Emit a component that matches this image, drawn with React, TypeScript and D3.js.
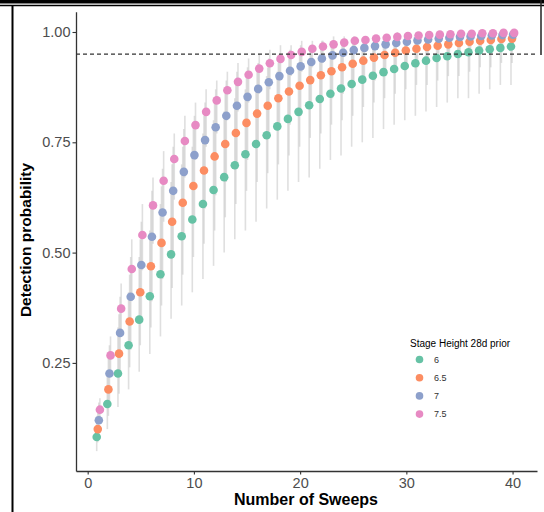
import React, { useEffect, useRef } from 'react';
import * as d3 from 'd3';

// sweeps 1..40
const sweeps = [1, 2, 3, 4, 5, 6, 7, 8, 9, 10, 11, 12, 13, 14, 15, 16, 17, 18, 19, 20,
  21, 22, 23, 24, 25, 26, 27, 28, 29, 30, 31, 32, 33, 34, 35, 36, 37, 38, 39, 40];

const stageLevels = ['6', '6.5', '7', '7.5'];
const stageColors = ['#66c2a5', '#fc8d62', '#8da0cb', '#e78ac3'];

// detection probability estimates
const prob6 = [0.082, 0.157, 0.226, 0.290, 0.348, 0.401, 0.451, 0.496, 0.537, 0.575,
  0.610, 0.642, 0.671, 0.698, 0.723, 0.746, 0.766, 0.786, 0.803, 0.819,
  0.834, 0.848, 0.860, 0.872, 0.882, 0.892, 0.901, 0.909, 0.916, 0.923,
  0.929, 0.935, 0.941, 0.945, 0.950, 0.954, 0.958, 0.961, 0.964, 0.967];
const prob65 = [0.100, 0.190, 0.271, 0.344, 0.410, 0.469, 0.522, 0.570, 0.613, 0.651,
  0.686, 0.718, 0.746, 0.771, 0.794, 0.815, 0.833, 0.850, 0.865, 0.878,
  0.891, 0.902, 0.911, 0.920, 0.928, 0.935, 0.942, 0.948, 0.953, 0.958,
  0.962, 0.966, 0.969, 0.972, 0.975, 0.978, 0.980, 0.982, 0.984, 0.985];
const prob7 = [0.120, 0.226, 0.318, 0.400, 0.472, 0.536, 0.591, 0.640, 0.683, 0.721,
  0.755, 0.784, 0.810, 0.833, 0.853, 0.871, 0.886, 0.900, 0.912, 0.922,
  0.932, 0.940, 0.947, 0.953, 0.959, 0.964, 0.968, 0.972, 0.975, 0.978,
  0.981, 0.983, 0.985, 0.987, 0.989, 0.990, 0.991, 0.992, 0.993, 0.994];
const prob75 = [0.144, 0.267, 0.373, 0.463, 0.540, 0.607, 0.663, 0.712, 0.753, 0.789,
  0.819, 0.845, 0.868, 0.887, 0.903, 0.917, 0.929, 0.939, 0.948, 0.955,
  0.962, 0.967, 0.972, 0.976, 0.980, 0.982, 0.985, 0.987, 0.989, 0.991,
  0.992, 0.993, 0.994, 0.995, 0.996, 0.996, 0.997, 0.997, 0.998, 0.998];

// interval bounds
const lower6 = [0.05, 0.10, 0.15, 0.19, 0.23, 0.27, 0.31, 0.35, 0.38, 0.41,
  0.44, 0.47, 0.50, 0.53, 0.55, 0.57, 0.60, 0.62, 0.64, 0.66,
  0.67, 0.69, 0.71, 0.72, 0.74, 0.75, 0.76, 0.78, 0.79, 0.80,
  0.81, 0.82, 0.83, 0.84, 0.85, 0.85, 0.86, 0.87, 0.88, 0.88];
const upper6 = [0.13, 0.23, 0.33, 0.41, 0.49, 0.55, 0.61, 0.66, 0.70, 0.74,
  0.77, 0.80, 0.82, 0.85, 0.87, 0.88, 0.90, 0.91, 0.92, 0.93,
  0.94, 0.95, 0.95, 0.96, 0.96, 0.97, 0.97, 0.98, 0.98, 0.98,
  0.98, 0.99, 0.99, 0.99, 0.99, 0.99, 0.99, 0.99, 0.99, 1.00];
const lower65 = [0.07, 0.13, 0.18, 0.24, 0.29, 0.33, 0.38, 0.42, 0.45, 0.49,
  0.52, 0.55, 0.58, 0.61, 0.64, 0.66, 0.68, 0.70, 0.72, 0.74,
  0.76, 0.77, 0.79, 0.80, 0.81, 0.83, 0.84, 0.85, 0.86, 0.87,
  0.88, 0.88, 0.89, 0.90, 0.90, 0.91, 0.92, 0.92, 0.93, 0.93];
const upper65 = [0.14, 0.26, 0.36, 0.45, 0.53, 0.60, 0.65, 0.70, 0.74, 0.78,
  0.81, 0.84, 0.86, 0.88, 0.90, 0.91, 0.92, 0.93, 0.94, 0.95,
  0.96, 0.96, 0.97, 0.97, 0.98, 0.98, 0.98, 0.99, 0.99, 0.99,
  0.99, 0.99, 0.99, 0.99, 1.00, 1.00, 1.00, 1.00, 1.00, 1.00];
const lower7 = [0.08, 0.15, 0.22, 0.28, 0.34, 0.39, 0.44, 0.49, 0.53, 0.57,
  0.60, 0.63, 0.66, 0.69, 0.71, 0.74, 0.76, 0.78, 0.79, 0.81,
  0.83, 0.84, 0.85, 0.86, 0.88, 0.89, 0.89, 0.90, 0.91, 0.92,
  0.92, 0.93, 0.94, 0.94, 0.95, 0.95, 0.95, 0.96, 0.96, 0.96];
const upper7 = [0.16, 0.29, 0.40, 0.49, 0.57, 0.64, 0.69, 0.74, 0.78, 0.81,
  0.84, 0.87, 0.89, 0.91, 0.92, 0.93, 0.94, 0.95, 0.96, 0.97,
  0.97, 0.98, 0.98, 0.98, 0.99, 0.99, 0.99, 0.99, 0.99, 0.99,
  0.99, 1.00, 1.00, 1.00, 1.00, 1.00, 1.00, 1.00, 1.00, 1.00];
const lower75 = [0.12, 0.22, 0.31, 0.39, 0.46, 0.52, 0.57, 0.62, 0.67, 0.71,
  0.74, 0.77, 0.80, 0.82, 0.84, 0.86, 0.87, 0.89, 0.90, 0.91,
  0.92, 0.93, 0.94, 0.95, 0.95, 0.96, 0.96, 0.97, 0.97, 0.97,
  0.98, 0.98, 0.98, 0.98, 0.99, 0.99, 0.99, 0.99, 0.99, 0.99];
const upper75 = [0.17, 0.31, 0.43, 0.53, 0.61, 0.67, 0.73, 0.77, 0.81, 0.84,
  0.87, 0.89, 0.91, 0.93, 0.94, 0.95, 0.96, 0.97, 0.97, 0.98,
  0.98, 0.98, 0.99, 0.99, 0.99, 0.99, 0.99, 0.99, 1.00, 1.00,
  1.00, 1.00, 1.00, 1.00, 1.00, 1.00, 1.00, 1.00, 1.00, 1.00];

const yTicks = [0.25, 0.5, 0.75, 1.0];
const xTicks = [0, 10, 20, 30, 40];
const threshold = 0.95;

const FONT = '"Liberation Sans", Arial, sans-serif';

const DetectionChart = () => {
  const ref = useRef<SVGSVGElement>(null);

  useEffect(() => {
    const svg = d3.select(ref.current);
    svg.selectAll('*').remove();

    const series = [
      { level: stageLevels[0], est: prob6, lo: lower6, hi: upper6 },
      { level: stageLevels[1], est: prob65, lo: lower65, hi: upper65 },
      { level: stageLevels[2], est: prob7, lo: lower7, hi: upper7 },
      { level: stageLevels[3], est: prob75, lo: lower75, hi: upper75 },
    ];
    const dodge = [-0.15, -0.05, 0.05, 0.15];

    const x = d3.scaleLinear().domain([-1.1, 42.3]).range([76, 537]);
    const y = d3.scaleLinear().domain([0.005, 1.046]).range([471, 11.7]);
    const color = d3.scaleOrdinal<string, string>().domain(stageLevels).range(stageColors);

    // frame
    svg.append('rect').attr('x', 0).attr('y', 0).attr('width', 544).attr('height', 3.5).attr('fill', '#000');
    svg.append('line').attr('x1', 0).attr('x2', 544).attr('y1', 5.5).attr('y2', 5.5)
      .attr('stroke', '#000').attr('stroke-width', 1.5);
    svg.append('line').attr('x1', 12.5).attr('x2', 12.5).attr('y1', 5).attr('y2', 512)
      .attr('stroke', '#000').attr('stroke-width', 2);
    svg.append('line').attr('x1', 541).attr('x2', 541).attr('y1', 0).attr('y2', 55)
      .attr('stroke', '#222').attr('stroke-width', 1.5);

    // error bars
    const g = svg.append('g');
    series.forEach((s, si) => {
      g.selectAll(null)
        .data(sweeps)
        .enter()
        .append('line')
        .attr('x1', (d) => x(d + dodge[si]))
        .attr('x2', (d) => x(d + dodge[si]))
        .attr('y1', (d, i) => y(s.lo[i]))
        .attr('y2', (d, i) => y(s.hi[i]))
        .attr('stroke', '#c4c4c4')
        .attr('stroke-opacity', 0.55)
        .attr('stroke-width', 1.6);
    });

    // threshold line
    svg.append('line')
      .attr('x1', 76).attr('x2', 537)
      .attr('y1', y(threshold)).attr('y2', y(threshold))
      .attr('stroke', '#333').attr('stroke-width', 1.2)
      .attr('stroke-dasharray', '4,3');

    // points
    series.forEach((s, si) => {
      g.selectAll(null)
        .data(sweeps)
        .enter()
        .append('circle')
        .attr('cx', (d) => x(d + dodge[si]))
        .attr('cy', (d, i) => y(s.est[i]))
        .attr('r', 4.3)
        .attr('fill', color(s.level));
    });

    // axes
    const yAxis = svg.append('g')
      .attr('transform', 'translate(76,0)')
      .call(d3.axisLeft(y).tickValues(yTicks).tickFormat(d3.format('.2f')).tickSize(3.5).tickSizeOuter(0));
    const xAxis = svg.append('g')
      .attr('transform', 'translate(0,471)')
      .call(d3.axisBottom(x).tickValues(xTicks).tickFormat(d3.format('d')).tickSize(3.5).tickSizeOuter(0));
    [yAxis, xAxis].forEach((ax) => {
      ax.select('.domain').attr('stroke', '#333').attr('stroke-width', 1.3);
      ax.selectAll('.tick line').attr('stroke', '#333').attr('stroke-width', 1.1);
      ax.selectAll('.tick text')
        .attr('fill', '#4d4d4d')
        .style('font-family', FONT)
        .style('font-size', '14.5px');
    });
    yAxis.selectAll('.tick text').attr('x', -5.5);
    xAxis.selectAll('.tick text').attr('y', 7);

    // axis titles
    svg.append('text')
      .attr('transform', 'translate(31,240) rotate(-90)')
      .attr('text-anchor', 'middle')
      .style('font-family', FONT)
      .style('font-size', '15.5px')
      .style('font-weight', 'bold')
      .attr('fill', '#000')
      .text('Detection probability');
    svg.append('text')
      .attr('x', 306)
      .attr('y', 505)
      .attr('text-anchor', 'middle')
      .style('font-family', FONT)
      .style('font-size', '16px')
      .style('font-weight', 'bold')
      .attr('fill', '#000')
      .text('Number of Sweeps');

    // legend
    const legend = svg.append('g').attr('transform', 'translate(410,0)');
    legend.append('text')
      .attr('x', 0).attr('y', 346.5)
      .style('font-family', FONT)
      .style('font-size', '10px')
      .attr('fill', '#000')
      .text('Stage Height 28d prior');
    stageLevels.forEach((lvl, i) => {
      const cy = 359.5 + i * 18.2;
      legend.append('circle').attr('cx', 9.5).attr('cy', cy).attr('r', 3.8).attr('fill', color(lvl));
      legend.append('text')
        .attr('x', 24).attr('y', cy + 3.3)
        .style('font-family', FONT)
        .style('font-size', '9px')
        .attr('fill', '#333')
        .text(lvl);
    });
  }, []);

  return <svg ref={ref} width={544} height={512} style={{ position: 'fixed', top: 0, left: 0, background: '#fff' }}></svg>;
};

export default function App() {
  return <DetectionChart />;
}
